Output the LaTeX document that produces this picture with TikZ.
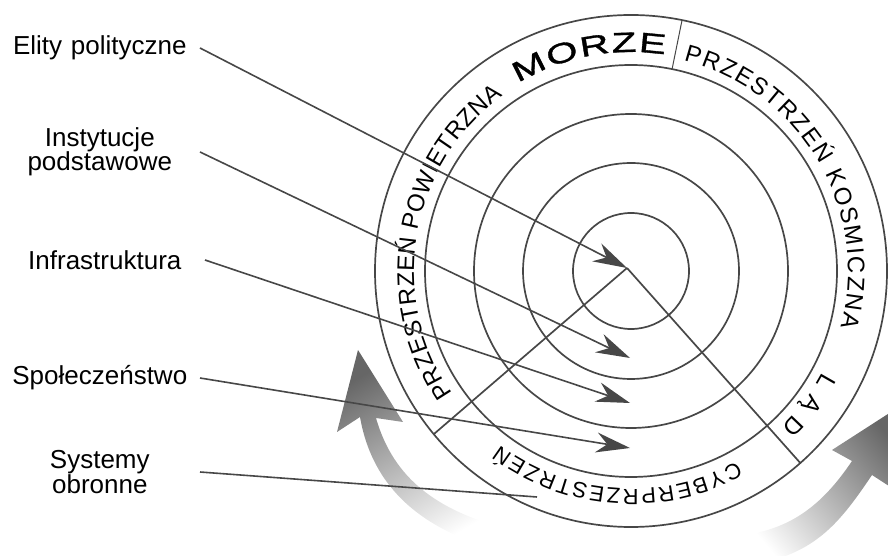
\documentclass[tikz,border=0pt]{standalone}
\usepackage{fontspec}
\setmainfont{Liberation Sans}
\newfontfamily\morzefont[FakeStretch=1.45,FakeBold=1.2]{Liberation Sans}
\newcommand\bandfont{\fontsize{24}{24}\selectfont}
\usetikzlibrary{arrows.meta,decorations.text}

\begin{document}
\begin{tikzpicture}[x=1pt,y=1pt,
    ring/.style={line width=1.7pt, draw=black!72},
    conn/.style={line width=1.6pt, draw=black!72, -{Stealth[length=34pt,width=20pt,inset=11pt]}},
    leader/.style={line width=1.6pt, draw=black!72},
    tag/.style={font=\fontsize{26}{24.5}\selectfont, text width=190pt, align=center, anchor=east, inner sep=5pt},
    bandtext/.style={decorate, decoration={text along path, text align={fit to path}, text={#1}}}
  ]
    \useasboundingbox (0,0) rectangle (888,556);
    \clip (0,0) rectangle (888,556);
    \coordinate (C) at (631,285);
    \coordinate (apex) at (627,288);

    % Gray curved arrows
    \shade[top color=black!60, middle color=black!45, bottom color=white, shading angle=30]
        (358,206) -- (337,124) -- (360,139) to[out=-80,in=163] (490,8) -- (500,29)
        to[out=164,in=-74] (376,138) -- (403,134) -- cycle;
    \shade[top color=black!60, middle color=black!45, bottom color=white, shading angle=-50]
        (905,153) -- (832,106) -- (852,95) to[out=-124,in=5] (735,20) -- (770,-5)
        to[out=15,in=-124] (872,81) -- (892,68) -- cycle;

    % Rings
    \foreach \r in {58,108,157,206,256}
        \draw[ring] (C) circle[radius=\r];
    \draw[ring] (apex) -- ([shift={(219.6:256)}]C);
    \draw[ring] (apex) -- ([shift={(-48.6:256)}]C);
    \draw[ring, line width=1pt] ([shift={(78.5:206)}]C) -- ([shift={(78.5:256)}]C);

    % Domain names
    \path[bandtext={|\bandfont|PRZESTRZEŃ POWIETRZNA}] ([shift={(214.5:217)}]C) arc[start angle=214.5, end angle=126, radius=217];
    \path[bandtext={|\morzefont\fontsize{28}{28}\selectfont|MORZE}] ([shift={(121:219)}]C) arc[start angle=121, end angle=81, radius=219];
    \path[bandtext={|\bandfont|PRZESTRZEŃ KOSMICZNA}] ([shift={(76:217)}]C) arc[start angle=76, end angle=-15, radius=217];
    \path[bandtext={|\bandfont|LĄD}] ([shift={(-28:217)}]C) arc[start angle=-28, end angle=-46, radius=217];
    \path[bandtext={|\fontsize{22}{22}\selectfont|CYBERPRZESTRZEŃ}] ([shift={(299:218)}]C) arc[start angle=299, end angle=233, radius=218];

    % Labels
    \node[tag] (elity) at (200,508) {Elity polityczne};
    \node[tag] (inst) at (200,404) {Instytucje\\podstawowe};
    \node[tag] (infra) at (205,296) {Infrastruktura};
    \node[tag] (spol) at (200,178) {Społeczeństwo};
    \node[tag] (sys) at (200,84) {Systemy\\obronne};

    \coordinate (instEnd) at (630,198);
    \coordinate (infraEnd) at (630,153);
    \coordinate (spolEnd) at (630,108);
    \coordinate (sysEnd) at (537,59);

    % Connectors
    \draw[conn] (elity.east) -- (apex);
    \draw[conn] (inst.east) -- (instEnd);
    \draw[conn] (infra.east) -- (infraEnd);
    \draw[conn] (spol.east) -- (spolEnd);
    \draw[leader] (sys.east) -- (sysEnd);
\end{tikzpicture}
\end{document}
